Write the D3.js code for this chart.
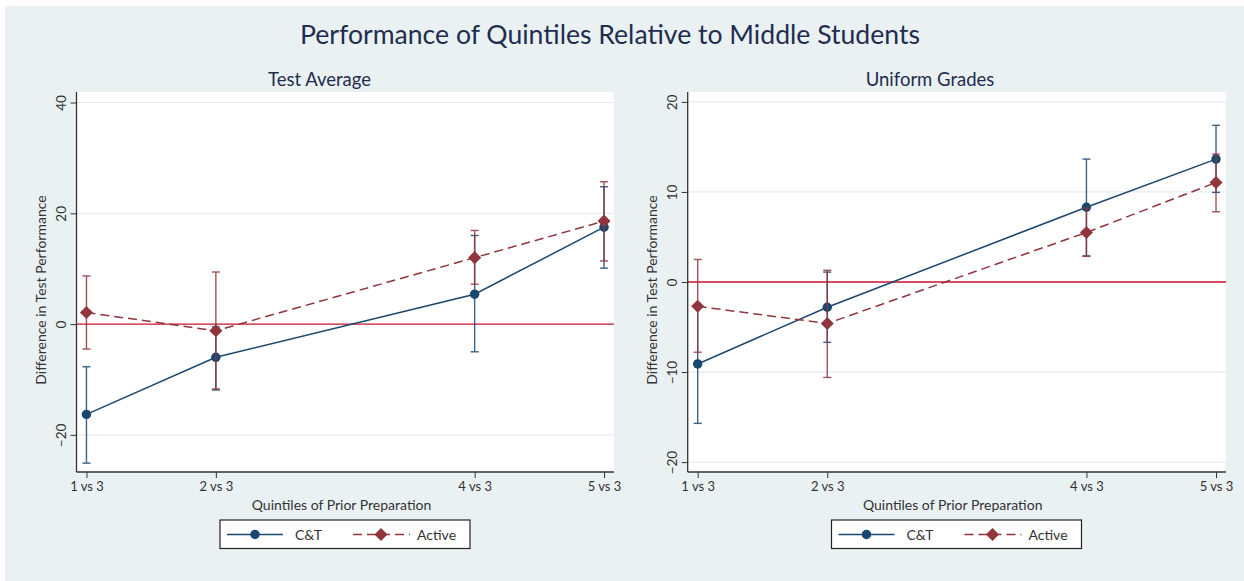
<!DOCTYPE html>
<html>
<head>
<meta charset="utf-8">
<script src="https://cdn.jsdelivr.net/npm/d3@7"></script>
<style>
  body { margin: 0; background: #fff; }
  text { font-family: Lato, "Open Sans", sans-serif; }
</style>
</head>
<body>
<div id="chart"></div>
<script>
// x categories and their spacing (quintile vs middle)
const categories = ["1 vs 3", "2 vs 3", "4 vs 3", "5 vs 3"];
const catPos = [1, 2, 4, 5];
const seriesNames = ["C&T", "Active"];

// Test Average panel
const testCT = [-16.3, -6.0, 5.4, 17.5];
const testCTlo = [-25.1, -11.9, -5.0, 10.1];
const testCThi = [-7.7, -0.5, 16.0, 24.8];
const testAct = [2.1, -1.2, 12.0, 18.6];
const testActlo = [-4.5, -11.7, 7.2, 11.4];
const testActhi = [8.7, 9.4, 16.9, 25.7];
const testTicks = [-20, 0, 20, 40];

// Uniform Grades panel
const uniCT = [-9.1, -2.8, 8.3, 13.65];
const uniCTlo = [-15.7, -6.7, 2.9, 9.95];
const uniCThi = [-2.5, 1.1, 13.65, 17.4];
const uniAct = [-2.7, -4.6, 5.5, 11.05];
const uniActlo = [-7.8, -10.6, 2.85, 7.8];
const uniActhi = [2.5, 1.3, 8.2, 14.2];
const uniTicks = [-20, -10, 0, 10, 20];

const width = 1244, height = 581;
const blue = "#1a476f", red = "#90353b", zeroRed = "#c8102e", ink = "#1f2d4f";

const svg = d3.select("#chart").append("svg")
  .attr("width", width).attr("height", height);

svg.append("rect").attr("x", 5).attr("y", 6)
  .attr("width", width - 5).attr("height", height - 6)
  .attr("fill", "#eaf1f3");

svg.append("text")
  .attr("x", 610).attr("y", 44)
  .attr("text-anchor", "middle")
  .attr("font-size", 26.6).attr("fill", ink)
  .text("Performance of Quintiles Relative to Middle Students");

function panel(opt) {
  const top = 92, bottom = 472;
  const x = d3.scaleLinear().domain([0.923, 5.077]).range([opt.left, opt.right]);
  const y = d3.scaleLinear().domain(opt.domain).range([bottom, top]);
  const g = svg.append("g");

  g.append("rect").attr("x", opt.left).attr("y", top)
    .attr("width", opt.right - opt.left).attr("height", bottom - top)
    .attr("fill", "#fff");

  // grid
  g.selectAll(".grid").data(opt.ticks.filter(t => t !== 0)).join("line")
    .attr("x1", opt.left).attr("x2", opt.right)
    .attr("y1", d => y(d)).attr("y2", d => y(d))
    .attr("stroke", "#e2ecee").attr("stroke-width", 1.2);

  // zero reference line
  g.append("line").attr("x1", opt.left).attr("x2", opt.right)
    .attr("y1", y(0)).attr("y2", y(0))
    .attr("stroke", zeroRed).attr("stroke-width", 1.4);

  // axes
  const ya = g.append("g").attr("transform", `translate(${opt.left},0)`)
    .call(d3.axisLeft(y).tickValues(opt.ticks).tickSize(6).tickFormat(d3.format("d")));
  ya.select(".domain").attr("d", `M0,${top}V${bottom}`).attr("stroke", "#333").attr("stroke-width", 1.3);
  ya.selectAll(".tick line").attr("stroke", "#333");
  ya.selectAll(".tick text")
    .attr("transform", "rotate(-90)")
    .attr("x", 0).attr("y", -11).attr("dy", 0)
    .attr("text-anchor", "middle")
    .attr("font-size", 13.5).attr("fill", "#333")
    .style("font-family", "Lato, 'Open Sans', sans-serif");

  const xa = g.append("g").attr("transform", `translate(0,${bottom})`)
    .call(d3.axisBottom(x).tickValues(catPos).tickSize(6)
      .tickFormat((d, i) => categories[i]));
  xa.select(".domain").attr("d", `M${opt.left},0H${opt.right}`).attr("stroke", "#333").attr("stroke-width", 1.3);
  xa.selectAll(".tick line").attr("stroke", "#333");
  xa.selectAll(".tick text").attr("y", 10).attr("font-size", 13).attr("fill", "#333")
    .style("font-family", "Lato, 'Open Sans', sans-serif");

  g.append("text").attr("x", opt.titleX).attr("y", 86).attr("text-anchor", "middle")
    .attr("font-size", 18.5).attr("fill", ink).text(opt.title);
  g.append("text").attr("x", opt.left + 265).attr("y", 510).attr("text-anchor", "middle")
    .attr("font-size", 14).attr("fill", "#333").text("Quintiles of Prior Preparation");
  g.append("text")
    .attr("transform", `translate(${opt.left - 31},${(top + bottom) / 2 + 8}) rotate(-90)`)
    .attr("text-anchor", "middle").attr("font-size", 14).attr("fill", "#333")
    .text("Difference in Test Performance");

  const series = [
    { vals: opt.ct, lo: opt.ctlo, hi: opt.cthi, color: blue, dash: null, shape: "circle" },
    { vals: opt.act, lo: opt.actlo, hi: opt.acthi, color: red, dash: "9,5", shape: "diamond" }
  ];

  series.forEach(s => {
    const pts = catPos.map((p, i) => ({ p, v: s.vals[i], lo: s.lo[i], hi: s.hi[i] }));
    const eb = g.append("g").attr("stroke", s.color).attr("stroke-width", 1.4).attr("opacity", 0.85);
    eb.selectAll(".v").data(pts).join("line")
      .attr("x1", d => x(d.p)).attr("x2", d => x(d.p))
      .attr("y1", d => y(d.lo)).attr("y2", d => y(d.hi));
    eb.selectAll(".ch").data(pts).join("line")
      .attr("x1", d => x(d.p) - 4).attr("x2", d => x(d.p) + 4)
      .attr("y1", d => y(d.hi)).attr("y2", d => y(d.hi));
    eb.selectAll(".cl").data(pts).join("line")
      .attr("x1", d => x(d.p) - 4).attr("x2", d => x(d.p) + 4)
      .attr("y1", d => y(d.lo)).attr("y2", d => y(d.lo));

    g.append("path").datum(pts)
      .attr("d", d3.line().x(d => x(d.p)).y(d => y(d.v)))
      .attr("fill", "none").attr("stroke", s.color).attr("stroke-width", 1.5)
      .attr("stroke-dasharray", s.dash);

    const sym = s.shape === "circle"
      ? d3.symbol().type(d3.symbolCircle).size(70)
      : d3.symbol().type(d3.symbolSquare).size(85);
    g.selectAll(null).data(pts).join("path")
      .attr("d", sym)
      .attr("transform", d => `translate(${x(d.p)},${y(d.v)})` + (s.shape === "diamond" ? " rotate(45)" : ""))
      .attr("fill", s.color);
  });

  // legend
  const lg = g.append("g").attr("transform", `translate(${opt.legendX},520)`);
  lg.append("rect").attr("width", 250).attr("height", 28.5)
    .attr("fill", "#fff").attr("stroke", "#222").attr("stroke-width", 1.2);
  lg.append("line").attr("x1", 7).attr("x2", 63).attr("y1", 14.5).attr("y2", 14.5)
    .attr("stroke", blue).attr("stroke-width", 1.5);
  lg.append("path").attr("transform", "translate(35,14.5)")
    .attr("d", d3.symbol().type(d3.symbolCircle).size(70)).attr("fill", blue);
  lg.append("text").attr("x", 75).attr("y", 20).attr("font-size", 14).attr("fill", "#333").text(seriesNames[0]);
  lg.append("line").attr("x1", 133).attr("x2", 190).attr("y1", 14.5).attr("y2", 14.5)
    .attr("stroke", red).attr("stroke-width", 1.5).attr("stroke-dasharray", "9,5");
  lg.append("path").attr("transform", "translate(161,14.5) rotate(45)")
    .attr("d", d3.symbol().type(d3.symbolSquare).size(85)).attr("fill", red);
  lg.append("text").attr("x", 197).attr("y", 20).attr("font-size", 14).attr("fill", "#333").text(seriesNames[1]);
}

panel({
  title: "Test Average", titleX: 319.5, left: 76.5, right: 614, domain: [-26.7, 41.9], ticks: testTicks,
  ct: testCT, ctlo: testCTlo, cthi: testCThi, act: testAct, actlo: testActlo, acthi: testActhi,
  legendX: 220
});
panel({
  title: "Uniform Grades", titleX: 930, left: 687.7, right: 1226, domain: [-21.1, 21.1], ticks: uniTicks,
  ct: uniCT, ctlo: uniCTlo, cthi: uniCThi, act: uniAct, actlo: uniActlo, acthi: uniActhi,
  legendX: 831.5
});
</script>
</body>
</html>
